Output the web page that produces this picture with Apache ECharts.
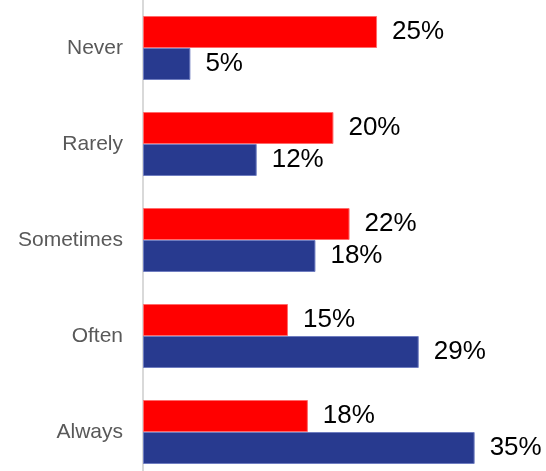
<!DOCTYPE html>
<html>
<head>
<meta charset="utf-8">
<script src="https://cdn.jsdelivr.net/npm/echarts@6/dist/echarts.min.js"></script>
<style>
  html, body { margin: 0; padding: 0; background: #fff; }
  #chart { width: 546px; height: 471px; }
</style>
</head>
<body>
<div id="chart"></div>
<script>
// categories, top to bottom
const categories = ["Never", "Rarely", "Sometimes", "Often", "Always"];
// bar lengths (percent)
const redValues = [24.7, 20.1, 21.8, 15.3, 17.4];
const blueValues = [5, 12, 18.2, 29.1, 35];
// printed labels
const redLabels = ["25%", "20%", "22%", "15%", "18%"];
const blueLabels = ["5%", "12%", "18%", "29%", "35%"];

const chart = echarts.init(document.getElementById("chart"));

const valueLabel = function(texts) {
  return {
    show: true,
    position: "right",
    distance: 15,
    color: "#000",
    fontFamily: "Liberation Sans, Arial, sans-serif",
    fontSize: 26,
    formatter: function(p) { return texts[p.dataIndex]; }
  };
};

chart.setOption({
  animation: false,
  // plot area runs a little past the bottom edge, like the original
  grid: {
    left: 143, right: 24, top: 0, height: 480,
    containLabel: false,
    outerBoundsMode: "none"
  },
  xAxis: {
    type: "value",
    min: 0,
    max: 40,
    show: false
  },
  yAxis: {
    type: "category",
    data: categories,
    inverse: true,
    axisLine: { show: true, lineStyle: { color: "#d9d9d9", width: 2 } },
    axisTick: { show: false },
    axisLabel: {
      margin: 20,
      color: "#595959",
      fontFamily: "Liberation Sans, Arial, sans-serif",
      fontSize: 21
    }
  },
  series: [
    {
      type: "bar",
      data: redValues,
      barWidth: 32,
      barGap: "0%",
      itemStyle: { color: "#ff0000", borderColor: "#ff6b6b", borderWidth: 1 },
      label: valueLabel(redLabels)
    },
    {
      type: "bar",
      data: blueValues,
      barWidth: 32,
      itemStyle: { color: "#283a8f", borderColor: "#6f7dc0", borderWidth: 1 },
      label: valueLabel(blueLabels)
    }
  ]
});
</script>
</body>
</html>
